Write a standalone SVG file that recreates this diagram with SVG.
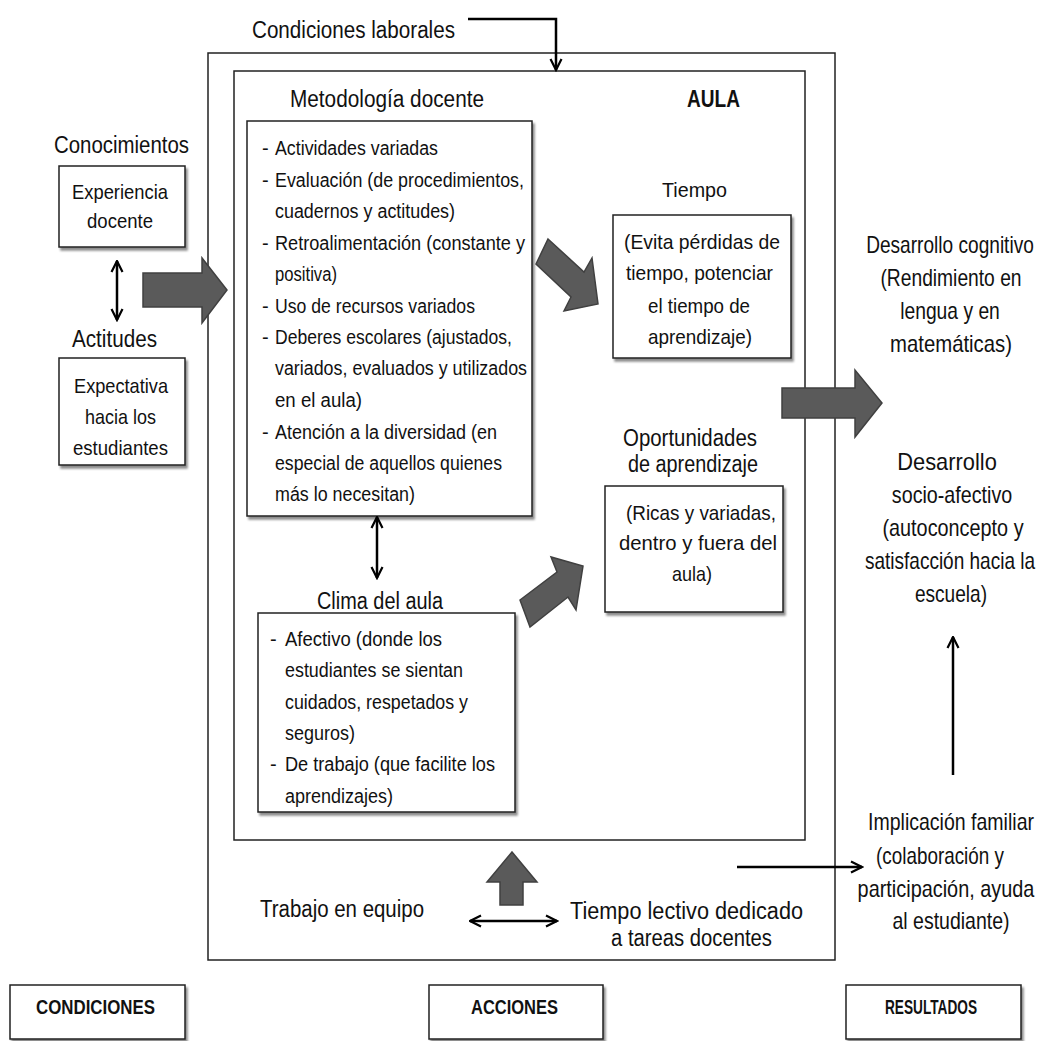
<svg xmlns="http://www.w3.org/2000/svg" width="1042" height="1041" viewBox="0 0 1042 1041">
  <defs>
    <style>
      text { font-family: "Liberation Sans", Arial, sans-serif; fill: #111; }
      .hd { font-size: 23px; }
      .tx { font-size: 20px; }
      .bx { font-size: 21px; }
      .rc { font-size: 23px; text-anchor: middle; }
      .bold { font-weight: bold; }
      .frame { fill: #fff; stroke: #222; stroke-width: 1.5; }
      .box { fill: #fff; stroke: #222; stroke-width: 1.5; filter: url(#sh); }
      .blk { fill: #5a5a5a; stroke: #404040; stroke-width: 1.5; stroke-linejoin: miter; }
      .ln { fill: none; stroke: #000; stroke-width: 2.5; }
    </style>
    <filter id="sh" x="-10%" y="-10%" width="125%" height="130%">
      <feDropShadow dx="2" dy="3" stdDeviation="1.3" flood-color="#000" flood-opacity="0.45"/>
    </filter>
    <marker id="open" viewBox="0 0 14 14" refX="12.5" refY="7" markerWidth="14" markerHeight="14" markerUnits="userSpaceOnUse" orient="auto-start-reverse">
      <path d="M1.5,1.5 L12.5,7 L1.5,12.5" fill="none" stroke="#000" stroke-width="2.2"/>
    </marker>
  </defs>

  <rect width="1042" height="1041" fill="#fff"/>

  <!-- outer frame: teacher actions -->
  <g id="acciones-frame">
    <rect class="frame" x="208" y="53" width="627" height="907"/>
  </g>

  <!-- classroom frame -->
  <g id="aula">
    <rect class="frame" x="234" y="71" width="571" height="769"/>
    <text class="hd bold" x="687" y="107" textLength="53" lengthAdjust="spacingAndGlyphs">AULA</text>
  </g>

  <g id="condiciones-laborales">
    <text class="hd" x="252" y="38" font-size="24" textLength="203" lengthAdjust="spacingAndGlyphs">Condiciones laborales</text>
  </g>

  <g id="conocimientos">
    <text class="hd" x="54" y="153" textLength="135" lengthAdjust="spacingAndGlyphs">Conocimientos</text>
    <rect class="box" x="59" y="166" width="126" height="81"/>
    <text class="bx" x="72" y="199" font-size="22" textLength="96" lengthAdjust="spacingAndGlyphs">Experiencia</text>
    <text class="bx" x="87" y="228" font-size="22" textLength="66" lengthAdjust="spacingAndGlyphs">docente</text>
  </g>

  <g id="actitudes">
    <text class="hd" x="72" y="347" textLength="85" lengthAdjust="spacingAndGlyphs">Actitudes</text>
    <rect class="box" x="59" y="358" width="126" height="107"/>
    <text class="bx" x="74" y="393" font-size="22" textLength="94" lengthAdjust="spacingAndGlyphs">Expectativa</text>
    <text class="bx" x="85" y="424" font-size="22" textLength="71" lengthAdjust="spacingAndGlyphs">hacia los</text>
    <text class="bx" x="73" y="455" font-size="22" textLength="95" lengthAdjust="spacingAndGlyphs">estudiantes</text>
  </g>

  <g id="metodologia">
    <text class="hd" x="290" y="107" textLength="194" lengthAdjust="spacingAndGlyphs">Metodología docente</text>
    <rect class="box" x="247" y="121" width="285" height="395"/>
    <g class="tx">
      <text x="262" y="155">-</text><text x="275" y="155" textLength="163" lengthAdjust="spacingAndGlyphs">Actividades variadas</text>
      <text x="262" y="187">-</text><text x="275" y="187" textLength="249" lengthAdjust="spacingAndGlyphs">Evaluación (de procedimientos,</text>
      <text x="275" y="218" textLength="180" lengthAdjust="spacingAndGlyphs">cuadernos y actitudes)</text>
      <text x="262" y="250">-</text><text x="275" y="250" textLength="250" lengthAdjust="spacingAndGlyphs">Retroalimentación (constante y</text>
      <text x="275" y="281" textLength="62" lengthAdjust="spacingAndGlyphs">positiva)</text>
      <text x="262" y="313">-</text><text x="275" y="313" textLength="200" lengthAdjust="spacingAndGlyphs">Uso de recursos variados</text>
      <text x="262" y="344">-</text><text x="275" y="344" textLength="237" lengthAdjust="spacingAndGlyphs">Deberes escolares (ajustados,</text>
      <text x="275" y="375" textLength="252" lengthAdjust="spacingAndGlyphs">variados, evaluados y utilizados</text>
      <text x="275" y="407" textLength="87" lengthAdjust="spacingAndGlyphs">en el aula)</text>
      <text x="262" y="439">-</text><text x="275" y="439" textLength="222" lengthAdjust="spacingAndGlyphs">Atención a la diversidad (en</text>
      <text x="275" y="470" textLength="227" lengthAdjust="spacingAndGlyphs">especial de aquellos quienes</text>
      <text x="275" y="501" textLength="140" lengthAdjust="spacingAndGlyphs">más lo necesitan)</text>
    </g>
  </g>

  <g id="tiempo">
    <text class="bx" x="662" y="197" font-size="23" textLength="65" lengthAdjust="spacingAndGlyphs">Tiempo</text>
    <rect class="box" x="613" y="215" width="178" height="143"/>
    <text class="bx" x="624" y="249" textLength="156" lengthAdjust="spacingAndGlyphs">(Evita pérdidas de</text>
    <text class="bx" x="626" y="280" textLength="147" lengthAdjust="spacingAndGlyphs">tiempo, potenciar</text>
    <text class="bx" x="648" y="313" textLength="102" lengthAdjust="spacingAndGlyphs">el tiempo de</text>
    <text class="bx" x="648" y="344" textLength="104" lengthAdjust="spacingAndGlyphs">aprendizaje)</text>
  </g>

  <g id="oportunidades">
    <text class="hd" x="623" y="446" textLength="134" lengthAdjust="spacingAndGlyphs">Oportunidades</text>
    <text class="hd" x="628" y="472" textLength="130" lengthAdjust="spacingAndGlyphs">de aprendizaje</text>
    <rect class="box" x="605" y="486" width="178" height="126"/>
    <text class="bx" x="626" y="520" textLength="150" lengthAdjust="spacingAndGlyphs">(Ricas y variadas,</text>
    <text class="bx" x="619" y="550" textLength="158" lengthAdjust="spacingAndGlyphs">dentro y fuera del</text>
    <text class="bx" x="672" y="581" textLength="40" lengthAdjust="spacingAndGlyphs">aula)</text>
  </g>

  <g id="clima">
    <text class="hd" x="317" y="609" textLength="126" lengthAdjust="spacingAndGlyphs">Clima del aula</text>
    <rect class="box" x="258" y="613" width="257" height="199"/>
    <g class="tx">
      <text x="270" y="646">-</text><text x="285" y="646" textLength="157" lengthAdjust="spacingAndGlyphs">Afectivo (donde los</text>
      <text x="285" y="677" textLength="178" lengthAdjust="spacingAndGlyphs">estudiantes se sientan</text>
      <text x="285" y="709" textLength="183" lengthAdjust="spacingAndGlyphs">cuidados, respetados y</text>
      <text x="285" y="740" textLength="70" lengthAdjust="spacingAndGlyphs">seguros)</text>
      <text x="270" y="771">-</text><text x="285" y="771" textLength="210" lengthAdjust="spacingAndGlyphs">De trabajo (que facilite los</text>
      <text x="285" y="803" textLength="108" lengthAdjust="spacingAndGlyphs">aprendizajes)</text>
    </g>
  </g>

  <g id="trabajo-equipo">
    <text class="hd" x="260" y="917" textLength="164" lengthAdjust="spacingAndGlyphs">Trabajo en equipo</text>
  </g>

  <g id="tiempo-lectivo">
    <text class="hd" x="570" y="919" textLength="233" lengthAdjust="spacingAndGlyphs">Tiempo lectivo dedicado</text>
    <text class="hd" x="611" y="946" textLength="161" lengthAdjust="spacingAndGlyphs">a tareas docentes</text>
  </g>

  <!-- right column: narrow lettering via horizontal scale -->
  <g id="desarrollo-cognitivo">
    <text class="rc" transform="translate(950,253) scale(0.83,1)" textLength="202" lengthAdjust="spacingAndGlyphs">Desarrollo cognitivo</text>
    <text class="rc" transform="translate(951,286) scale(0.83,1)" textLength="170" lengthAdjust="spacingAndGlyphs">(Rendimiento en</text>
    <text class="rc" transform="translate(950,319) scale(0.83,1)" textLength="120" lengthAdjust="spacingAndGlyphs">lengua y en</text>
    <text class="rc" transform="translate(951,352) scale(0.83,1)" textLength="147" lengthAdjust="spacingAndGlyphs">matemáticas)</text>
  </g>

  <g id="desarrollo-socioafectivo">
    <text class="rc" transform="translate(947,470) scale(0.83,1)" textLength="120" lengthAdjust="spacingAndGlyphs">Desarrollo</text>
    <text class="rc" transform="translate(952,503) scale(0.83,1)" textLength="145" lengthAdjust="spacingAndGlyphs">socio-afectivo</text>
    <text class="rc" transform="translate(953,536) scale(0.83,1)" textLength="170" lengthAdjust="spacingAndGlyphs">(autoconcepto y</text>
    <text class="rc" transform="translate(950,569) scale(0.83,1)" textLength="205" lengthAdjust="spacingAndGlyphs">satisfacción hacia la</text>
    <text class="rc" transform="translate(951,602) scale(0.83,1)" textLength="87" lengthAdjust="spacingAndGlyphs">escuela)</text>
  </g>

  <g id="implicacion-familiar">
    <text class="rc" transform="translate(951,830) scale(0.83,1)" textLength="200" lengthAdjust="spacingAndGlyphs">Implicación familiar</text>
    <text class="rc" transform="translate(940,864) scale(0.83,1)" textLength="154" lengthAdjust="spacingAndGlyphs">(colaboración y</text>
    <text class="rc" transform="translate(946,897) scale(0.83,1)" textLength="213" lengthAdjust="spacingAndGlyphs">participación, ayuda</text>
    <text class="rc" transform="translate(951,929) scale(0.83,1)" textLength="141" lengthAdjust="spacingAndGlyphs">al estudiante)</text>
  </g>

  <g id="label-condiciones">
    <rect class="box" x="10" y="985" width="175" height="54"/>
    <text class="bold" font-size="20" x="36" y="1014" textLength="119" lengthAdjust="spacingAndGlyphs">CONDICIONES</text>
  </g>
  <g id="label-acciones">
    <rect class="box" x="429" y="985" width="174" height="54"/>
    <text class="bold" font-size="20" x="471" y="1014" textLength="87" lengthAdjust="spacingAndGlyphs">ACCIONES</text>
  </g>
  <g id="label-resultados">
    <rect class="box" x="846" y="985" width="175" height="54"/>
    <text class="bold" font-size="20" x="885" y="1014" textLength="92" lengthAdjust="spacingAndGlyphs">RESULTADOS</text>
  </g>

  <!-- connectors -->
  <g id="connectors">
    <!-- thin line arrows -->
    <path class="ln" d="M468,19 H556 V70" marker-end="url(#open)"/>
    <path class="ln" d="M117,261 V320" marker-start="url(#open)" marker-end="url(#open)"/>
    <path class="ln" d="M377,517 V578" marker-start="url(#open)" marker-end="url(#open)"/>
    <path class="ln" d="M470,921 H557" marker-start="url(#open)" marker-end="url(#open)"/>
    <path class="ln" d="M737,867 H862" marker-end="url(#open)"/>
    <path class="ln" d="M953,775 V637" marker-end="url(#open)"/>

    <!-- block arrows -->
    <polygon class="blk" points="143,273 202,273 202,258 227,290 202,323 202,307 143,307"/>
    <polygon class="blk" points="548,239 584,272 592,258 598,304 564,311 571,297 536,264"/>
    <polygon class="blk" points="520,600 557,572 551,557 583,566 576,610 568,597 530,627"/>
    <polygon class="blk" points="782,388 855,388 855,370 882,403 855,437 855,418 782,418"/>
    <polygon class="blk" points="512,852 537,882 523,882 523,905 500,905 500,882 487,882"/>
  </g>
</svg>
